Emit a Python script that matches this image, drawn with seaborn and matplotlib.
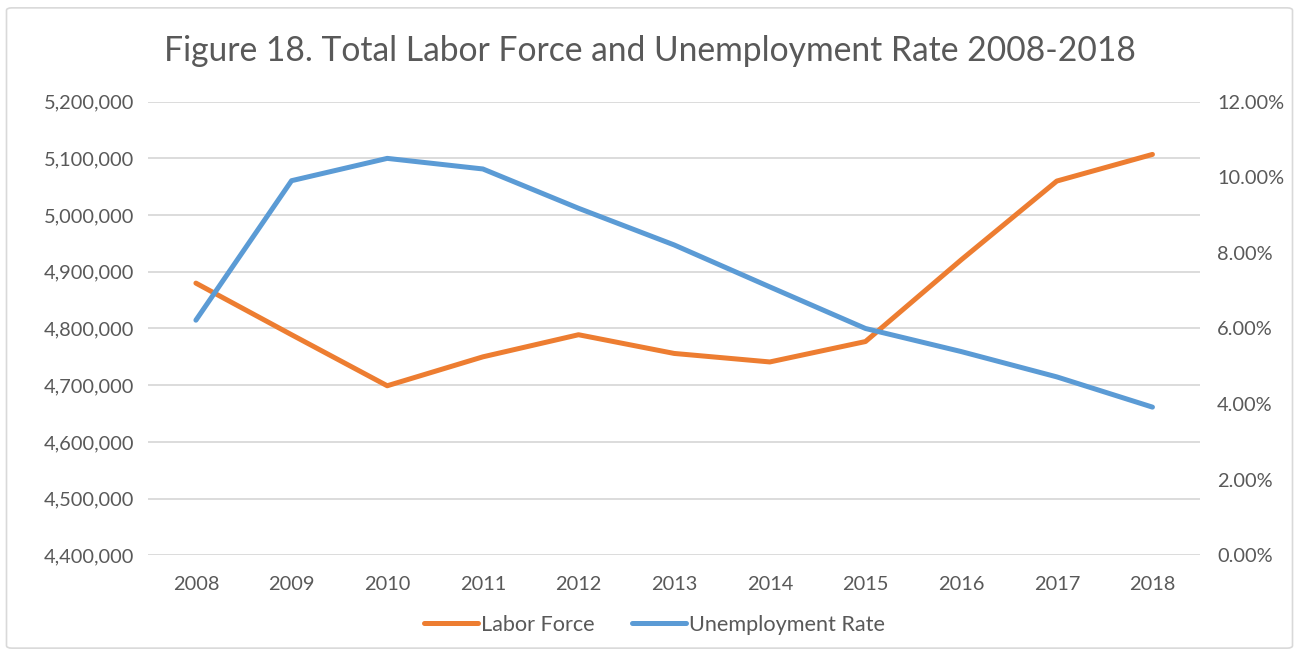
import numpy as np
import pandas as pd
import matplotlib
matplotlib.use("Agg")
import matplotlib.pyplot as plt
from matplotlib.patches import FancyBboxPatch
from matplotlib.ticker import FuncFormatter, MultipleLocator
from matplotlib.lines import Line2D
import seaborn as sns

years = ["2008", "2009", "2010", "2011", "2012", "2013",
         "2014", "2015", "2016", "2017", "2018"]
labor_force = [4880000, 4789000, 4699000, 4750000, 4789000, 4756000,
               4741000, 4777000, 4921000, 5060000, 5107000]
unemployment_rate = [6.22, 9.91, 10.50, 10.22, 9.18, 8.21,
                     7.10, 6.00, 5.39, 4.72, 3.92]

ORANGE = "#ED7D31"
BLUE = "#5B9BD5"
TEXT = "#595959"
GRID = "#D9D9D9"

sns.set_style("white")
plt.rcParams["font.family"] = ["Lato", "DejaVu Sans"]

df = pd.DataFrame({"year": years, "labor": labor_force, "rate": unemployment_rate})
df["pos"] = np.arange(len(years))

fig = plt.figure(figsize=(12.99, 6.56), dpi=100)
ax = fig.add_axes([0.114, 0.1535, 0.810, 0.6915])
ax2 = ax.twinx()

sns.lineplot(data=df, x="pos", y="labor", ax=ax, color=ORANGE, lw=3.6,
             solid_capstyle="round", solid_joinstyle="round")
sns.lineplot(data=df, x="pos", y="rate", ax=ax2, color=BLUE, lw=3.6,
             solid_capstyle="round", solid_joinstyle="round")

ax.set_ylim(4400000, 5200000)
ax.yaxis.set_major_locator(MultipleLocator(100000))
ax.yaxis.set_major_formatter(FuncFormatter(lambda v, p: f"{v:,.0f}"))
ax2.set_ylim(0, 12)
ax2.yaxis.set_major_locator(MultipleLocator(2))
ax2.yaxis.set_major_formatter(FuncFormatter(lambda v, p: f"{v:.2f}%"))

ax.set_xlim(-0.5, len(years) - 0.5)
ax.set_xticks(df["pos"])
ax.set_xticklabels(years)

ax.grid(axis="y", color=GRID, lw=1.3)
ax.set_axisbelow(True)
for a in (ax, ax2):
    for s in a.spines.values():
        s.set_visible(False)
    a.tick_params(length=0, labelsize=14.4, colors=TEXT)
    a.set_xlabel("")
    a.set_ylabel("")
ax.tick_params(axis="x", pad=15)
ax.tick_params(axis="y", pad=10)
ax2.tick_params(axis="y", pad=12)

fig.text(0.5, 0.922, "Figure 18. Total Labor Force and Unemployment Rate 2008-2018",
         ha="center", va="center", fontsize=24.2, color=TEXT)

handles = [Line2D([], [], color=ORANGE, lw=3.6, solid_capstyle="round"),
           Line2D([], [], color=BLUE, lw=3.6, solid_capstyle="round")]
fig.legend(handles, ["Labor Force", "Unemployment Rate"], loc="center",
           bbox_to_anchor=(0.504, 0.048), ncol=2, frameon=False, fontsize=15.6,
           labelcolor=TEXT, handlelength=2.5, handletextpad=0.15, columnspacing=1.7)

border = FancyBboxPatch((0.005, 0.012), 0.99, 0.976, boxstyle="round,pad=0,rounding_size=0.004",
                        transform=fig.transFigure, fill=False, edgecolor=GRID, lw=1.2)
fig.patches.append(border)

fig.savefig("out.png", dpi=100)
